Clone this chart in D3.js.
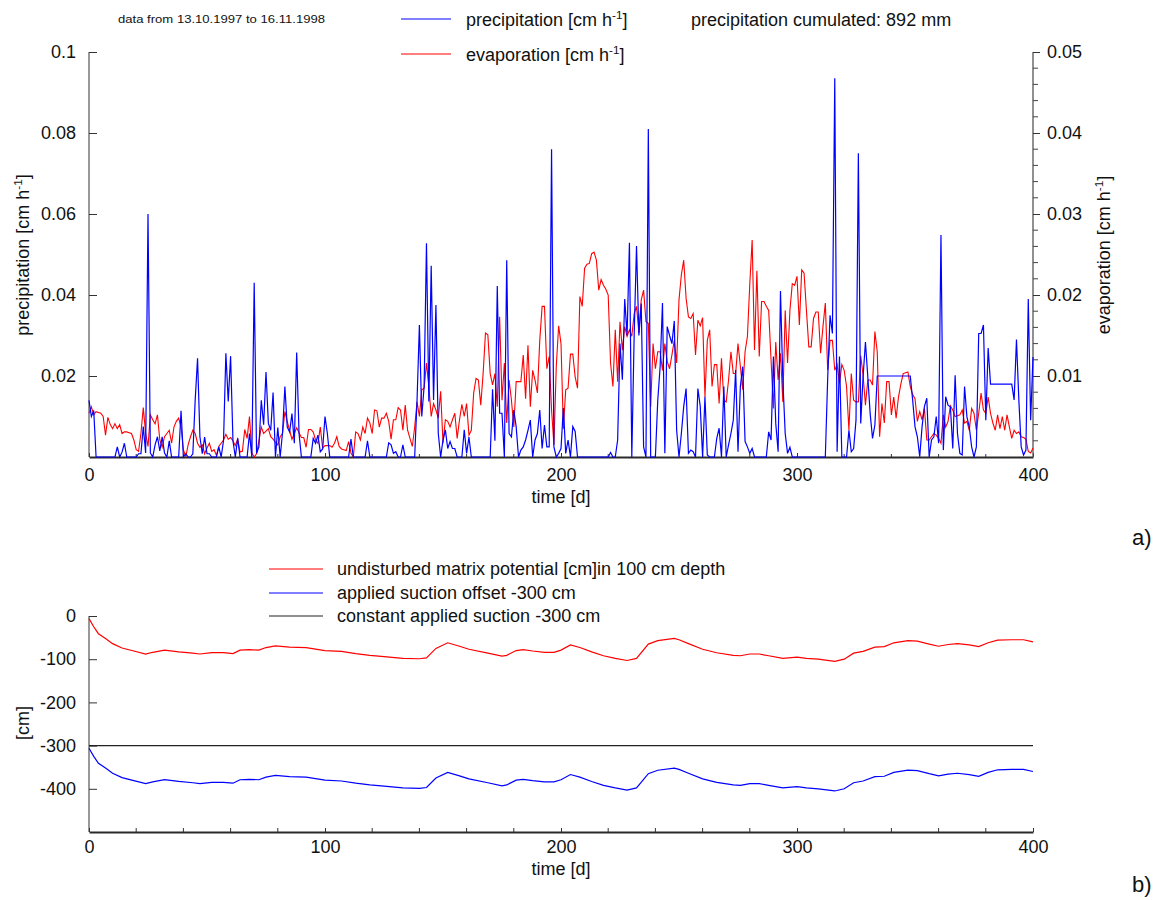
<!DOCTYPE html>
<html><head><meta charset="utf-8">
<script src="https://cdn.jsdelivr.net/npm/d3@7"></script>
<style>
body{margin:0;background:#fff;}
text{font-family:"Liberation Sans",Arial,sans-serif;fill:#111;}
</style></head><body>
<svg id="c" width="1159" height="900"></svg>
<script>
// ---------- DATA ----------
// daily precipitation [cm/h], day 0..400
const precipitation = [
0.0140,0.0100,0.0115,0,0,0,0,0,0,0,
0,0,0.0025,0,0.0012,0.0034,0,0,0,0,
0,0.0008,0.0008,0.0075,0.0010,0.0600,0.0010,0,0.0030,0.0050,
0.0015,0.0050,0.0010,0,0.0040,0,0,0,0,0.0114,
0,0.0008,0,0,0.0008,0.0141,0.0244,0.0050,0.0008,0.0049,
0.0008,0.0008,0,0,0,0.0025,0,0.0040,0.0256,0.0137,
0.0249,0.0040,0,0.0046,0,0,0,0,0.0058,0,
0.0430,0.0009,0.0025,0.0140,0.0080,0.0210,0.0083,0.0066,0.0159,0,
0.0073,0,0.0060,0.0174,0.0074,0.0062,0.0107,0.0034,0.0258,0.0058,
0,0,0,0,0,0.0046,0.0034,0.0054,0.0013,0.0020,
0.0100,0.0058,0,0,0,0,0,0,0,0,
0,0.0044,0,0,0,0,0,0,0.0040,0,
0,0,0,0,0,0,0,0.0035,0.0030,0.0009,
0.0013,0,0,0.0030,0,0,0,0,0,0.0140,
0.0326,0.0100,0.0174,0.0528,0.0137,0.0472,0.0141,0.0375,0.0058,0,
0.0042,0.0067,0.0021,0.0038,0.0021,0.0021,0,0,0,0.0067,
0.0009,0.0049,0,0,0,0,0,0,0,0,
0,0.0167,0.0040,0.0422,0.0108,0.0108,0,0.0486,0.0058,0.0050,
0.0116,0.0075,0,0.0017,0.0025,0.0042,0.0066,0.0091,0,0.0042,
0.0058,0.0116,0.0021,0.0079,0.0025,0.0025,0.0760,0.0025,0,0.0009,
0.0021,0.0121,0.0009,0.0042,0,0.0075,0.0063,0,0,0,
0,0,0,0,0,0,0,0,0,0,
0,0.0011,0,0,0.0042,0.0280,0.0191,0.0390,0.0300,0.0529,
0,0.0300,0.0521,0.0300,0.0379,0.0025,0,0.0810,0,0,
0,0.0140,0.0222,0.0380,0.0009,0.0322,0.0300,0.0280,0.0336,0.0066,
0,0.0058,0.0125,0.0169,0.0009,0.0017,0.0013,0,0.0169,0.0125,
0,0.0149,0.0005,0,0,0,0.0046,0.0071,0,0.0174,
0,0.0030,0.0058,0.0091,0.0215,0.0013,0.0174,0.0223,0.0038,0.0025,
0.0009,0.0021,0,0,0,0,0,0,0.0062,0.0042,
0.0248,0.0083,0.0013,0.0410,0.0191,0.0058,0.0009,0.0024,0,0,
0,0,0,0,0,0,0,0,0,0,
0,0,0,0.0194,0.0350,0.0305,0.0935,0.0013,0.0248,0,
0,0,0.0066,0.0013,0.0021,0.0091,0.0750,0.0083,0.0198,0.0284,
0.0198,0.0107,0.0046,0.0079,0.0200,0.0200,0.0200,0.0200,0.0200,0.0200,
0.0200,0.0200,0.0200,0.0200,0.0200,0.0200,0.0200,0.0200,0.0200,0.0141,
0.0075,0.0050,0.0001,0.0075,0.0125,0.0145,0,0.0042,0.0050,0.0100,
0.0034,0.0548,0.0017,0.0149,0.0128,0.0124,0.0021,0.0202,0.0058,0.0009,
0.0005,0.0174,0.0099,0.0074,0.0025,0,0.0025,0.0305,0.0305,0.0326,
0.0091,0.0269,0.0180,0.0180,0.0180,0.0180,0.0180,0.0180,0.0180,0.0180,
0.0180,0.0180,0.0141,0.0290,0.0141,0.0025,0.0005,0.0017,0.0390,0.0091,
0.0247];

// daily evaporation [cm/h], day 0..400
const evaporation = [
0.0054,0.0062,0.0052,0.0056,0.0055,0.0054,0.0050,0.0027,0.0049,0.0040,
0.0035,0.0041,0.0035,0.0040,0.0029,0.0031,0.0031,0.0030,0.0029,0.0021,
0.0009,0.0007,0.0029,0.0061,0.0029,0.0013,0.0052,0.0046,0.0041,0.0052,
0.0021,0.0012,0.0025,0.0029,0.0033,0.0017,0.0037,0.0044,0.0048,0.0037,
0.0009,0.0000,0.0015,0.0025,0.0033,0.0029,0.0017,0.0012,0.0015,0.0004,
0.0011,0.0017,0.0007,0.0009,0.0002,0.0013,0.0017,0.0021,0.0028,0.0022,
0.0024,0.0020,0.0014,0.0022,0.0006,0.0007,0.0034,0.0023,0.0050,0.0005,
0.0000,0.0004,0.0020,0.0037,0.0029,0.0032,0.0035,0.0025,0.0022,0.0018,
0.0015,0.0025,0.0029,0.0056,0.0044,0.0033,0.0022,0.0029,0.0036,0.0030,
0.0024,0.0024,0.0012,0.0034,0.0034,0.0031,0.0021,0.0017,0.0037,0.0011,
0.0014,0.0014,0.0014,0.0012,0.0017,0.0025,0.0013,0.0010,0.0009,0.0008,
0.0019,0.0005,0.0000,0.0031,0.0029,0.0021,0.0037,0.0029,0.0048,0.0042,
0.0029,0.0058,0.0057,0.0037,0.0048,0.0048,0.0054,0.0044,0.0022,0.0046,
0.0046,0.0061,0.0058,0.0033,0.0064,0.0033,0.0023,0.0013,0.0037,0.0068,
0.0050,0.0083,0.0085,0.0116,0.0087,0.0050,0.0066,0.0058,0.0048,0.0081,
0.0017,0.0046,0.0044,0.0037,0.0046,0.0054,0.0023,0.0046,0.0065,0.0050,
0.0066,0.0027,0.0033,0.0079,0.0097,0.0095,0.0064,0.0103,0.0153,0.0151,
0.0103,0.0089,0.0103,0.0062,0.0173,0.0070,0.0116,0.0042,0.0095,0.0070,
0.0037,0.0093,0.0093,0.0093,0.0126,0.0072,0.0138,0.0062,0.0107,0.0095,
0.0079,0.0144,0.0186,0.0186,0.0109,0.0124,0.0058,0.0015,0.0112,0.0162,
0.0140,0.0035,0.0083,0.0085,0.0127,0.0127,0.0099,0.0085,0.0198,0.0186,
0.0233,0.0238,0.0239,0.0251,0.0253,0.0243,0.0206,0.0219,0.0212,0.0207,
0.0200,0.0116,0.0087,0.0157,0.0093,0.0167,0.0132,0.0161,0.0149,0.0157,
0.0149,0.0177,0.0186,0.0153,0.0194,0.0206,0.0167,0.0165,0.0062,0.0140,
0.0109,0.0130,0.0130,0.0107,0.0140,0.0118,0.0109,0.0126,0.0144,0.0116,
0.0194,0.0225,0.0243,0.0196,0.0173,0.0171,0.0177,0.0126,0.0169,0.0162,
0.0172,0.0074,0.0144,0.0157,0.0087,0.0114,0.0114,0.0066,0.0122,0.0070,
0.0068,0.0095,0.0130,0.0103,0.0103,0.0140,0.0112,0.0083,0.0130,0.0149,
0.0214,0.0268,0.0132,0.0230,0.0124,0.0192,0.0192,0.0186,0.0181,0.0120,
0.0060,0.0142,0.0095,0.0128,0.0068,0.0181,0.0116,0.0181,0.0214,0.0212,
0.0223,0.0163,0.0231,0.0227,0.0181,0.0136,0.0136,0.0171,0.0179,0.0179,
0.0128,0.0161,0.0190,0.0107,0.0144,0.0144,0.0107,0.0114,0.0091,0.0114,
0.0107,0.0087,0.0033,0.0103,0.0070,0.0068,0.0068,0.0125,0.0101,0.0064,
0.0095,0.0095,0.0089,0.0155,0.0130,0.0025,0.0066,0.0042,0.0093,0.0093,
0.0052,0.0074,0.0048,0.0074,0.0090,0.0103,0.0104,0.0105,0.0087,0.0077,
0.0072,0.0044,0.0056,0.0046,0.0060,0.0021,0.0021,0.0025,0.0029,0.0027,
0.0023,0.0017,0.0052,0.0037,0.0044,0.0063,0.0058,0.0050,0.0051,0.0052,
0.0058,0.0042,0.0044,0.0033,0.0060,0.0054,0.0033,0.0054,0.0079,0.0058,
0.0054,0.0074,0.0054,0.0042,0.0033,0.0052,0.0035,0.0050,0.0033,0.0052,
0.0037,0.0023,0.0033,0.0029,0.0031,0.0025,0.0024,0.0022,0.0007,0.0005,
0.0011];

// panel b
const potentialDays = [0,2,4,7,10,14,19,24,27,32,38,44,47,52,57,61,64,68,72,75,79,85,92,100,107,113,119,125,133,140,143,147,152,157,161,169,175,177,181,184,188,193,197,200,204,208,213,218,223,228,232,237,241,248,250,254,260,266,273,276,280,284,288,294,300,304,309,316,320,324,328,333,337,341,347,351,356,360,364,368,373,377,381,385,391,396,400];
const matrixPotential = [-6,-25,-41,-52,-64,-74,-81,-88,-84,-79,-83,-86,-88,-85,-85,-87,-79,-78,-79,-73,-69,-72,-73,-80,-82,-87,-91,-94,-98,-99,-97,-75,-62,-70,-77,-86,-93,-91,-80,-78,-81,-84,-84,-79,-67,-73,-83,-92,-98,-103,-98,-65,-57,-52,-55,-64,-77,-85,-91,-92,-88,-88,-92,-98,-95,-98,-100,-105,-100,-86,-82,-72,-71,-62,-57,-58,-65,-70,-66,-64,-67,-71,-62,-56,-55,-55,-60];
const appliedSuction = [-306,-325,-341,-352,-364,-374,-381,-388,-384,-379,-383,-386,-388,-385,-385,-387,-379,-378,-379,-373,-369,-372,-373,-380,-382,-387,-391,-394,-398,-399,-397,-375,-362,-370,-377,-386,-393,-391,-380,-378,-381,-384,-384,-379,-367,-373,-383,-392,-398,-403,-398,-365,-357,-352,-355,-364,-377,-385,-391,-392,-388,-388,-392,-398,-395,-398,-400,-405,-400,-386,-382,-372,-371,-362,-357,-358,-365,-370,-366,-364,-367,-371,-362,-356,-355,-355,-360];
const constantDays = [0,400];
const constantSuction = [-300,-300];

// tick labels
const xTicks = [0,100,200,300,400];
const xMinorTicks = [20,40,60,80,120,140,160,180,220,240,260,280,320,340,360,380];
const precipTicks = [0.02,0.04,0.06,0.08,0.1];
const evapTicks = [0.01,0.02,0.03,0.04,0.05];
const evapMinor = [0.002,0.004,0.006,0.008,0.012,0.014,0.016,0.018,0.022,0.024,0.026,0.028,0.032,0.034,0.036,0.038,0.042,0.044,0.046,0.048];
const bTicks = [0,-100,-200,-300,-400];

// ---------- DRAW ----------
const svg = d3.select("#c");
const FONT = '"Liberation Sans",Arial,sans-serif';
const TICK = 18, LAB = 18;

const x = d3.scaleLinear().domain([0,400]).range([89,1033]);
const yP = d3.scaleLinear().domain([0,0.1]).range([457,52]);
const yE = d3.scaleLinear().domain([0,0.05]).range([457,52]);
const yB = d3.scaleLinear().domain([-500,0]).range([832,616]);

function styleAxis(g, size){
  g.selectAll("text").attr("font-family",FONT).attr("font-size",size).attr("fill","#111");
  g.selectAll("line").attr("stroke","#333");
  g.select(".domain").attr("stroke","#333");
}

// ---- Panel a ----
const gxa = svg.append("g").attr("transform","translate(0,457)")
  .call(d3.axisBottom(x).tickValues(xTicks).tickFormat(d3.format("d")).tickSize(-4).tickSizeOuter(0).tickPadding(11));
styleAxis(gxa,TICK);
gxa.select(".domain").attr("stroke","#2a2a2a").attr("stroke-width",2);
gxa.append("g").selectAll("line").data(xMinorTicks).join("line")
  .attr("x1",d=>x(d)).attr("x2",d=>x(d)).attr("y1",0).attr("y2",-3).attr("stroke","#333");

const gla = svg.append("g").attr("transform","translate(89,0)")
  .call(d3.axisLeft(yP).tickValues(precipTicks).tickFormat(d=>String(d)).tickSize(-8).tickSizeOuter(0).tickPadding(13));
styleAxis(gla,TICK);
gla.select(".domain").attr("d","M0,52V457");

const gra = svg.append("g").attr("transform","translate(1033,0)")
  .call(d3.axisRight(yE).tickValues(evapTicks).tickFormat(d=>String(d)).tickSize(7).tickSizeOuter(0).tickPadding(7));
styleAxis(gra,TICK);
gra.select(".domain").attr("d","M0,52V457").attr("stroke","#555").attr("stroke-width",1.3);
gra.append("g").selectAll("line").data(evapMinor).join("line")
  .attr("x1",0).attr("x2",5).attr("y1",d=>yE(d)).attr("y2",d=>yE(d)).attr("stroke","#444");

const lineE = d3.line().x((d,i)=>x(i)).y(d=>yE(d));
const lineP = d3.line().x((d,i)=>x(i)).y(d=>yP(d));
svg.append("path").datum(evaporation).attr("d",lineE).attr("fill","none").attr("stroke","#ff0000").attr("stroke-width",1.1);
svg.append("path").datum(precipitation).attr("d",lineP).attr("fill","none").attr("stroke","#0000ff").attr("stroke-width",1.2);

function supLabel(g, main, sup, tail){
  g.append("tspan").text(main);
  g.append("tspan").attr("font-size","0.65em").attr("dy","-0.6em").text(sup);
  g.append("tspan").attr("dy","0.39em").text(tail);
}
const ylab = svg.append("text").attr("transform","translate(29,255) rotate(-90)")
  .attr("text-anchor","middle").attr("font-size",LAB);
supLabel(ylab,"precipitation [cm h","-1","]");
const ylab2 = svg.append("text").attr("transform","translate(1110,255) rotate(-90)")
  .attr("text-anchor","middle").attr("font-size",LAB);
supLabel(ylab2,"evaporation [cm h","-1","]");
svg.append("text").attr("x",561).attr("y",503).attr("text-anchor","middle").attr("font-size",LAB).text("time [d]");

// legend a
svg.append("text").attr("x",118).attr("y",23).attr("font-size",11).attr("textLength",207).attr("lengthAdjust","spacingAndGlyphs").text("data from 13.10.1997 to 16.11.1998");
svg.append("line").attr("x1",401).attr("x2",451).attr("y1",19).attr("y2",19).attr("stroke","#0000ff").attr("stroke-width",1.2);
const la1 = svg.append("text").attr("x",466).attr("y",26).attr("font-size",LAB);
supLabel(la1,"precipitation [cm h","-1","]");
svg.append("text").attr("x",691).attr("y",26).attr("font-size",LAB).text("precipitation cumulated: 892 mm");
svg.append("line").attr("x1",401).attr("x2",451).attr("y1",54).attr("y2",54).attr("stroke","#ff0000").attr("stroke-width",1.2);
const la2 = svg.append("text").attr("x",466).attr("y",61).attr("font-size",LAB);
supLabel(la2,"evaporation [cm h","-1","]");

svg.append("text").attr("x",1132).attr("y",545).attr("font-family",'"Liberation Serif","DejaVu Serif",serif').attr("font-size",22).text("a)");

// ---- Panel b ----
const gxb = svg.append("g").attr("transform","translate(0,832)")
  .call(d3.axisBottom(x).tickValues(xTicks).tickFormat(d3.format("d")).tickSize(-4).tickSizeOuter(0).tickPadding(8));
styleAxis(gxb,TICK);
gxb.select(".domain").attr("stroke","#2a2a2a").attr("stroke-width",2);
gxb.append("g").selectAll("line").data(xMinorTicks).join("line")
  .attr("x1",d=>x(d)).attr("x2",d=>x(d)).attr("y1",0).attr("y2",-4).attr("stroke","#333");

const glb = svg.append("g").attr("transform","translate(89,0)")
  .call(d3.axisLeft(yB).tickValues(bTicks).tickFormat(d3.format("d")).tickSize(-8).tickSizeOuter(0).tickPadding(13));
styleAxis(glb,TICK);
glb.selectAll("text").text(d=>d===0?"0":"-"+Math.abs(d));
glb.select(".domain").attr("d","M0,616V832");

const lineB = d3.line().x(d=>x(d[0])).y(d=>yB(d[1]));
svg.append("path").datum(d3.zip(constantDays,constantSuction)).attr("d",lineB).attr("fill","none").attr("stroke","#222").attr("stroke-width",1.2);
svg.append("path").datum(d3.zip(potentialDays,matrixPotential)).attr("d",lineB).attr("fill","none").attr("stroke","#ff0000").attr("stroke-width",1.2);
svg.append("path").datum(d3.zip(potentialDays,appliedSuction)).attr("d",lineB).attr("fill","none").attr("stroke","#0000ff").attr("stroke-width",1.2);

svg.append("text").attr("transform","translate(29,723) rotate(-90)").attr("text-anchor","middle").attr("font-size",LAB).text("[cm]");
svg.append("text").attr("x",561).attr("y",875).attr("text-anchor","middle").attr("font-size",LAB).text("time [d]");

const legB = [["undisturbed matrix potential [cm]in 100 cm depth","#ff0000",569],["applied suction offset -300 cm","#0000ff",593],["constant applied suction -300 cm","#222",616]];
legB.forEach(([t,c,yy])=>{
  svg.append("line").attr("x1",269).attr("x2",323).attr("y1",yy).attr("y2",yy).attr("stroke",c).attr("stroke-width",1.2);
  svg.append("text").attr("x",337).attr("y",yy+6).attr("font-size",LAB).text(t);
});
svg.append("text").attr("x",1132).attr("y",892).attr("font-family",'"Liberation Serif","DejaVu Serif",serif').attr("font-size",22).text("b)");
</script>
</body></html>
